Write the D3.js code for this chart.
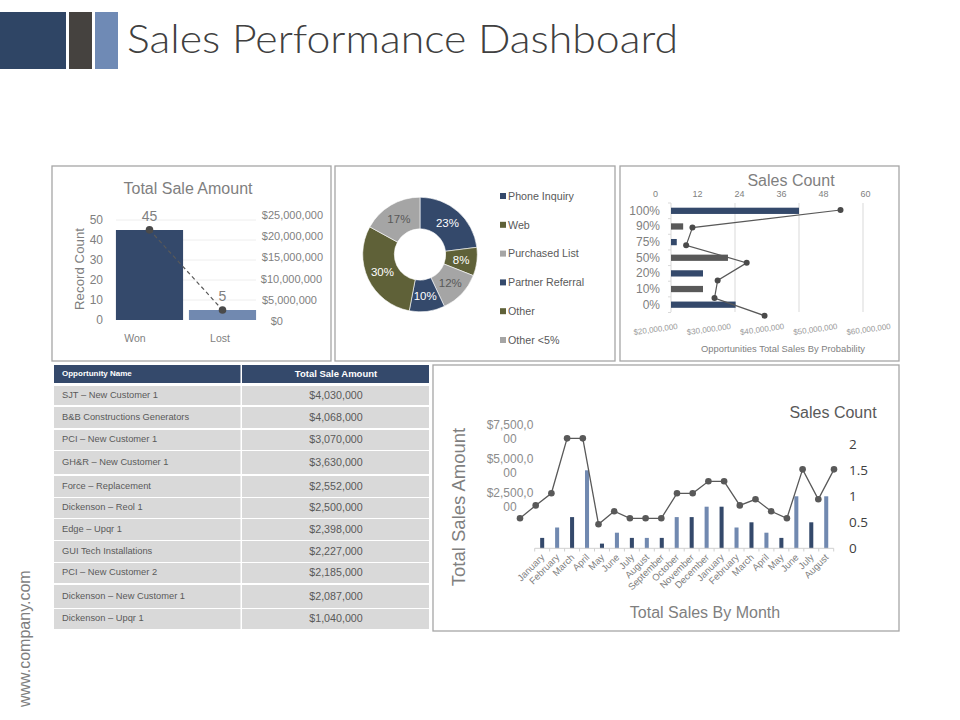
<!DOCTYPE html>
<html>
<head>
  <meta charset="utf-8">
  <script src="https://d3js.org/d3.v7.min.js"></script>
  <style>
    body { margin: 0; background: #fff; }
    text { font-family: "Liberation Sans", Arial, sans-serif; }
    .domain { fill: none; }
  </style>
</head>
<body>
<div id="chart"></div>

<script>
// total sale amount (won / lost)
const outcomes = ["Won", "Lost"];
const recordCounts = [45, 5];
const outcomeAmounts = [21500000, 2600000];
const recordTicks = [0, 10, 20, 30, 40, 50];
const amountTicks = [0, 5000000, 10000000, 15000000, 20000000, 25000000];

// lead source donut
const sources = ["Phone Inquiry", "Web", "Purchased List", "Partner Referral", "Other", "Other <5%"];
const sourceShares = [23, 8, 12, 10, 30, 17];

// sales count by probability
const probabilities = ["100%", "90%", "75%", "50%", "20%", "10%", "0%"];
const probabilitySales = [40000000, 21900000, 20900000, 28900000, 25000000, 25000000, 30100000];
const probabilityCounts = [53, 10.7, 8.9, 26.2, 17.9, 17, 31.3];
const countTicks = [0, 12, 24, 36, 48, 60];
const salesTicks = [20000000, 30000000, 40000000, 50000000, 60000000];

// opportunities table
const opportunityNames = ["SJT – New Customer 1", "B&B Constructions Generators", "PCI – New Customer 1",
  "GH&R – New Customer 1", "Force – Replacement", "Dickenson – Reol 1", "Edge – Upqr 1",
  "GUI Tech Installations", "PCI – New Customer 2", "Dickenson – New Customer 1", "Dickenson – Upqr 1"];
const opportunityAmounts = [4030000, 4068000, 3070000, 3630000, 2552000, 2500000, 2398000, 2227000, 2185000, 2087000, 1040000];

// sales by month
const months = ["January", "February", "March", "April", "May", "June", "July", "August", "September", "October",
  "November", "December", "January", "February", "March", "April", "May", "June", "July", "August"];
const monthCounts = [0.2, 0.4, 0.6, 1.5, 0.09, 0.3, 0.2, 0.2, 0.2, 0.6, 0.6, 0.8, 0.8, 0.4, 0.5, 0.3, 0.2, 1, 0.5, 1];
const monthAmounts = [1080000, 2030000, 2920000, 6960000, 6960000, 640000, 1600000, 1080000, 1080000, 1080000,
  2920000, 2920000, 3800000, 3800000, 2030000, 2480000, 1600000, 1080000, 4680000, 2480000, 4680000];
const monthAmountTicks = [2500000, 5000000, 7500000];
const monthCountTicks = [0, 0.5, 1, 1.5, 2];

const navy = "#34496b";
const blue = "#7189b0";
const olive = "#5f6138";
const grey = "#a5a5a5";
const charcoal = "#595959";
const tickGrey = "#7f7f7f";

const money = d3.format("$,");

const svg = d3.select("#chart")
  .append("svg")
    .attr("width", 960)
    .attr("height", 720);

function addText(x, y, str, size, color) {
  return svg.append("text")
    .attr("x", x)
    .attr("y", y)
    .attr("font-size", size)
    .attr("fill", color)
    .text(str);
}

// strip the line and tick marks off an axis, restyle its labels
function styleAxis(g, size, color) {
  g.select(".domain").remove();
  g.selectAll(".tick line").remove();
  g.selectAll("text")
    .attr("font-size", size)
    .attr("fill", color);
}

// ---- header ----
svg.append("rect").attr("x", 0).attr("y", 12).attr("width", 66).attr("height", 57).attr("fill", "#2f4565");
svg.append("rect").attr("x", 69).attr("y", 12).attr("width", 23).attr("height", 57).attr("fill", "#45423f");
svg.append("rect").attr("x", 95).attr("y", 12).attr("width", 23).attr("height", 57).attr("fill", "#6f8ab5");
addText(127, 53, "Sales Performance Dashboard", 39, "#404040")
  .attr("textLength", 551)
  .attr("lengthAdjust", "spacingAndGlyphs")
  .style("font-family", "Lato, sans-serif")
  .style("font-weight", 300);

addText(0, 0, "www.company.com", 16, tickGrey)
  .attr("transform", "translate(30,707) rotate(-90)");

// ---- panel frames ----
[[52, 166, 279, 195], [335, 166, 280, 195], [620, 166, 279, 195], [433, 365, 466, 266]].forEach(function(p) {
  svg.append("rect")
    .attr("x", p[0]).attr("y", p[1]).attr("width", p[2]).attr("height", p[3])
    .attr("fill", "none")
    .attr("stroke", "#a6a6a6")
    .attr("stroke-width", 1.3);
});

// ---- total sale amount ----
const wonX = d3.scaleBand().domain(outcomes).range([113, 259]).paddingInner(0.08).paddingOuter(0.04);
const wonLabelX = d3.scalePoint().domain(outcomes).range([135, 220]);
const recordY = d3.scaleLinear().domain([0, 50]).range([320, 220]);
const amountY = d3.scaleLinear().domain([0, 25000000]).range([321, 215]);

svg.selectAll(".won-grid")
  .data(recordTicks.slice(1))
  .enter().append("line")
    .attr("x1", 116).attr("x2", 256)
    .attr("y1", d => recordY(d)).attr("y2", d => recordY(d))
    .attr("stroke", "#eeeeee");

svg.selectAll(".won-bar")
  .data(outcomes)
  .enter().append("rect")
    .attr("x", d => wonX(d))
    .attr("y", (d, i) => recordY(recordCounts[i]))
    .attr("width", wonX.bandwidth())
    .attr("height", (d, i) => recordY(0) - recordY(recordCounts[i]))
    .attr("fill", (d, i) => i == 0 ? navy : blue);

svg.append("path")
  .datum(outcomes)
  .attr("fill", "none")
  .attr("stroke", charcoal)
  .attr("stroke-width", 1.2)
  .attr("stroke-dasharray", "4,3")
  .attr("d", d3.line()
    .x(d => wonX(d) + wonX.bandwidth() / 2)
    .y((d, i) => amountY(outcomeAmounts[i])));

svg.selectAll(".won-dot")
  .data(outcomes)
  .enter().append("circle")
    .attr("cx", d => wonX(d) + wonX.bandwidth() / 2)
    .attr("cy", (d, i) => amountY(outcomeAmounts[i]))
    .attr("r", 3.8)
    .attr("fill", "#4a4a4a");

svg.selectAll(".won-value")
  .data(outcomes)
  .enter().append("text")
    .attr("x", d => wonX(d) + wonX.bandwidth() / 2)
    .attr("y", (d, i) => amountY(outcomeAmounts[i]) - 9)
    .attr("text-anchor", "middle")
    .attr("font-size", 14)
    .attr("fill", tickGrey)
    .text((d, i) => recordCounts[i]);

svg.append("g")
  .attr("transform", "translate(106,0)")
  .call(d3.axisLeft(recordY).tickValues(recordTicks))
  .call(styleAxis, 12, tickGrey)
  .call(g => g.selectAll("text").attr("x", -3));

svg.append("g")
  .attr("transform", "translate(323,0)")
  .call(d3.axisRight(amountY).tickValues(amountTicks).tickFormat(money))
  .call(styleAxis, 11, tickGrey)
  .call(g => g.selectAll("text")
    .attr("text-anchor", "end")
    .attr("x", d => d == 0 ? -40 : d < 15000000 ? (d == 5000000 ? -6 : -1) : 0));

svg.selectAll(".won-label")
  .data(outcomes)
  .enter().append("text")
    .attr("x", d => wonLabelX(d))
    .attr("y", 342)
    .attr("text-anchor", "middle")
    .attr("font-size", 10.5)
    .attr("fill", tickGrey)
    .text(d => d);

addText(188, 194, "Total Sale Amount", 16, tickGrey).attr("text-anchor", "middle");
addText(0, 0, "Record Count", 13.3, tickGrey)
  .attr("text-anchor", "middle")
  .attr("transform", "translate(83.5,269) rotate(-90)");

// ---- donut ----
const sourceColor = d3.scaleOrdinal().domain(sources).range([navy, olive, grey, navy, olive, grey]);
const labelColor = ["#fff", "#fff", charcoal, "#fff", "#fff", charcoal];
const pie = d3.pie().sort(null)(sourceShares);
const arc = d3.arc().innerRadius(25.7).outerRadius(57.3);

const donut = svg.append("g").attr("transform", "translate(420,254.5)");

donut.selectAll("path")
  .data(pie)
  .enter().append("path")
    .attr("d", arc)
    .attr("fill", (d, i) => sourceColor(sources[i]))
    .attr("stroke", "#fff")
    .attr("stroke-width", 0.6);

donut.selectAll("text")
  .data(pie)
  .enter().append("text")
    .attr("x", d => arc.centroid(d)[0])
    .attr("y", d => arc.centroid(d)[1])
    .attr("dy", "0.35em")
    .attr("text-anchor", "middle")
    .attr("font-size", 11.5)
    .attr("fill", (d, i) => labelColor[i])
    .text(d => d.value + "%");

const legendY = d3.scalePoint().domain(sources).range([196, 340]);

svg.selectAll(".legend-key")
  .data(sources)
  .enter().append("rect")
    .attr("x", 500)
    .attr("y", d => legendY(d) - 3)
    .attr("width", 6)
    .attr("height", 6)
    .attr("fill", d => sourceColor(d));

svg.selectAll(".legend-label")
  .data(sources)
  .enter().append("text")
    .attr("x", 508)
    .attr("y", d => legendY(d))
    .attr("dy", "0.35em")
    .attr("font-size", 10.7)
    .attr("fill", charcoal)
    .text(d => d);

// ---- sales count by probability ----
const salesX = d3.scaleLinear().domain([20000000, 50000000]).range([671, 863]);
const salesLabelX = d3.scaleLinear().domain([20000000, 60000000]).range([656, 869]);
const countX = d3.scaleLinear().domain([0, 60]).range([655, 865]);
const probY = d3.scaleBand().domain(probabilities).range([203, 312.5]).padding(0.6).paddingOuter(0.3);
const probLineY = d3.scalePoint().domain(probabilities).range([210, 315.7]);

svg.selectAll(".prob-grid")
  .data(salesTicks.slice(1, 4))
  .enter().append("line")
    .attr("x1", d => salesX(d)).attr("x2", d => salesX(d))
    .attr("y1", 203).attr("y2", 312)
    .attr("stroke", "#d9d9d9");

svg.append("line")
  .attr("x1", 671).attr("x2", 671).attr("y1", 203).attr("y2", 312)
  .attr("stroke", "#d9d9d9");

svg.selectAll(".prob-tick")
  .data(d3.range(probabilities.length + 1))
  .enter().append("line")
    .attr("x1", 668).attr("x2", 671)
    .attr("y1", d => 203 + d * probY.step()).attr("y2", d => 203 + d * probY.step())
    .attr("stroke", "#d9d9d9");

svg.selectAll(".prob-bar")
  .data(probabilities)
  .enter().append("rect")
    .attr("x", salesX(20000000))
    .attr("y", d => probY(d))
    .attr("width", (d, i) => salesX(probabilitySales[i]) - salesX(20000000))
    .attr("height", probY.bandwidth())
    .attr("fill", (d, i) => i % 2 == 0 ? navy : charcoal);

svg.append("path")
  .datum(probabilities)
  .attr("fill", "none")
  .attr("stroke", charcoal)
  .attr("stroke-width", 1.2)
  .attr("d", d3.line()
    .x((d, i) => countX(probabilityCounts[i]))
    .y(d => probLineY(d)));

svg.selectAll(".prob-dot")
  .data(probabilities)
  .enter().append("circle")
    .attr("cx", (d, i) => countX(probabilityCounts[i]))
    .attr("cy", d => probLineY(d))
    .attr("r", 3)
    .attr("fill", "#4a4a4a");

svg.append("g")
  .attr("transform", "translate(663,0)")
  .call(d3.axisLeft(probY))
  .call(styleAxis, 12, tickGrey)
  .call(g => g.selectAll("text").attr("x", -3));

svg.append("g")
  .attr("transform", "translate(0,196.5)")
  .call(d3.axisTop(countX).tickValues(countTicks))
  .call(styleAxis, 9, tickGrey)
  .call(g => g.selectAll("text").attr("y", 0));

svg.selectAll(".prob-sales")
  .data(salesTicks)
  .enter().append("text")
    .attr("text-anchor", "middle")
    .attr("font-size", 8)
    .attr("fill", "#999999")
    .attr("transform", d => "translate(" + salesLabelX(d) + ",332) rotate(-8)")
    .text(d => money(d));

addText(791, 186, "Sales Count", 16, tickGrey).attr("text-anchor", "middle");
addText(783, 352, "Opportunities Total Sales By Probability", 9.4, tickGrey).attr("text-anchor", "middle");

// ---- opportunities table ----
const rowTop = [386, 407, 430, 451, 476, 498, 519, 541, 563, 585, 609];
const rowBottom = [405, 428, 450, 474, 497, 518, 540, 562, 583, 608, 629];

svg.append("rect").attr("x", 54).attr("y", 365).attr("width", 186.5).attr("height", 18).attr("fill", navy);
svg.append("rect").attr("x", 242).attr("y", 365).attr("width", 187).attr("height", 18).attr("fill", navy);
addText(62, 376, "Opportunity Name", 8, "#fff").attr("font-weight", "bold");
addText(336, 377, "Total Sale Amount", 9.5, "#fff").attr("font-weight", "bold").attr("text-anchor", "middle");

const rows = svg.selectAll(".row")
  .data(opportunityNames)
  .enter().append("g");

rows.append("rect")
  .attr("x", 54).attr("width", 186.5)
  .attr("y", (d, i) => rowTop[i])
  .attr("height", (d, i) => rowBottom[i] - rowTop[i])
  .attr("fill", "#d9d9d9");

rows.append("rect")
  .attr("x", 242).attr("width", 187)
  .attr("y", (d, i) => rowTop[i])
  .attr("height", (d, i) => rowBottom[i] - rowTop[i])
  .attr("fill", "#d9d9d9");

rows.append("text")
  .attr("x", 62)
  .attr("y", (d, i) => (rowTop[i] + rowBottom[i]) / 2 - 1)
  .attr("dy", "0.35em")
  .attr("font-size", 9.3)
  .attr("fill", charcoal)
  .text(d => d);

rows.append("text")
  .attr("x", 336)
  .attr("y", (d, i) => (rowTop[i] + rowBottom[i]) / 2 - 0.5)
  .attr("dy", "0.35em")
  .attr("text-anchor", "middle")
  .attr("font-size", 10.7)
  .attr("fill", charcoal)
  .text((d, i) => money(opportunityAmounts[i]));

// ---- sales by month ----
const monthX = d3.scaleBand().domain(d3.range(months.length)).range([534.7, 833.7]).padding(0.73).paddingOuter(0.365);
const monthLineX = d3.scalePoint().domain(d3.range(monthAmounts.length)).range([520, 834]);
const monthCountY = d3.scaleLinear().domain([0, 2]).range([548.3, 444.3]);
const monthAmountY = d3.scaleLinear().domain([0, 7500000]).range([533, 431]);

svg.selectAll(".month-bar")
  .data(months)
  .enter().append("rect")
    .attr("x", (d, i) => monthX(i))
    .attr("y", (d, i) => monthCountY(monthCounts[i]))
    .attr("width", monthX.bandwidth())
    .attr("height", (d, i) => monthCountY(0) - monthCountY(monthCounts[i]))
    .attr("fill", (d, i) => i % 2 == 0 ? navy : blue);

svg.append("line")
  .attr("x1", 534.7).attr("x2", 833.7).attr("y1", 548.3).attr("y2", 548.3)
  .attr("stroke", "#d0d0d0");

svg.selectAll(".month-tick")
  .data(d3.range(months.length + 1))
  .enter().append("line")
    .attr("x1", d => 534.7 + d * monthX.step()).attr("x2", d => 534.7 + d * monthX.step())
    .attr("y1", 548.3).attr("y2", 551.5)
    .attr("stroke", "#d0d0d0");

svg.append("path")
  .datum(monthAmounts)
  .attr("fill", "none")
  .attr("stroke", charcoal)
  .attr("stroke-width", 1.3)
  .attr("d", d3.line()
    .x((d, i) => monthLineX(i))
    .y(d => monthAmountY(d)));

svg.selectAll(".month-dot")
  .data(monthAmounts)
  .enter().append("circle")
    .attr("cx", (d, i) => monthLineX(i))
    .attr("cy", d => monthAmountY(d))
    .attr("r", 3.3)
    .attr("fill", charcoal);

svg.selectAll(".month-label")
  .data(months)
  .enter().append("text")
    .attr("text-anchor", "end")
    .attr("font-size", 9.5)
    .attr("fill", tickGrey)
    .attr("transform", (d, i) => "translate(" + (monthX(i) + monthX.bandwidth() / 2 + 3) + ",558) rotate(-45)")
    .text(d => d);

// the left tick labels wrap after the eighth character in the reference
svg.append("g")
  .attr("transform", "translate(534,0)")
  .call(d3.axisLeft(monthAmountY).tickValues(monthAmountTicks).tickFormat(money))
  .call(styleAxis, 12, "#8c8c8c")
  .call(g => g.selectAll("text").each(function() {
    const label = d3.select(this);
    const full = label.text();
    label.text(null).attr("text-anchor", "middle").attr("dy", null).attr("y", -3);
    label.append("tspan").attr("x", -24).text(full.slice(0, 8));
    label.append("tspan").attr("x", -24).attr("dy", 14).text(full.slice(8));
  }));

svg.append("g")
  .attr("transform", "translate(849,0)")
  .call(d3.axisRight(monthCountY).tickValues(monthCountTicks).tickFormat(d => d))
  .call(styleAxis, 13.5, "#404040")
  .call(g => g.selectAll("text").attr("x", 0).style("font-family", '"Open Sans", sans-serif'));

addText(833, 418, "Sales Count", 16, charcoal).attr("text-anchor", "middle");
addText(705, 618, "Total Sales By Month", 16, tickGrey).attr("text-anchor", "middle");
addText(0, 0, "Total Sales Amount", 18.5, tickGrey)
  .attr("text-anchor", "middle")
  .attr("transform", "translate(465,507) rotate(-90)");
</script>
</body>
</html>
